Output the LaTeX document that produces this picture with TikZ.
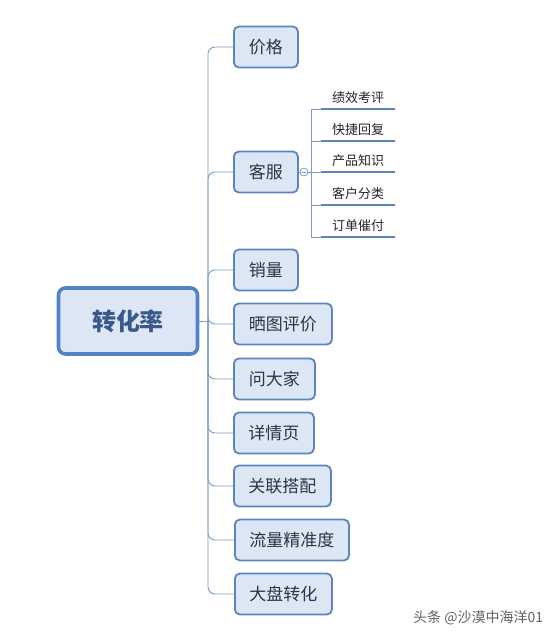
\documentclass[tikz,border=0pt]{standalone}
\usepackage{fontspec}
\setmainfont{Noto Sans CJK SC}
\begin{document}
\begin{tikzpicture}[x=1pt,y=-1pt,
  boxline/.style={draw=boxc,line width=1.8pt,fill=boxf,rounded corners=5pt},
  child/.style={boxline,anchor=west,minimum height=41pt,inner sep=0pt,font=\fontsize{17}{17}\selectfont,text=txtc},
  rootbox/.style={draw=rootc,line width=3.6pt,fill=boxf,rounded corners=7pt,minimum width=139pt,minimum height=66pt,inner sep=0pt,font=\fontsize{24}{24}\selectfont\bfseries,text=roottxt},
  conn/.style={draw=linec,line width=0.9pt,rounded corners=7pt},
  sub/.style={anchor=south,minimum width=74pt,inner xsep=0pt,inner ysep=5pt,font=\fontsize{13}{13}\selectfont,text=black!85},
  ul/.style={draw=ulc,line width=2.6pt},
  subconn/.style={draw=linec,line width=0.9pt}
]
\definecolor{boxc}{HTML}{5C84BE}
\definecolor{rootc}{HTML}{5282C8}
\definecolor{boxf}{HTML}{DCE6F4}
\definecolor{txtc}{HTML}{2E3440}
\definecolor{roottxt}{HTML}{3B5A8C}
\definecolor{linec}{HTML}{7C9CC6}
\definecolor{ulc}{HTML}{5B83BC}
\useasboundingbox (0,0) rectangle (557,638);
\fill[white] (0,0) rectangle (557,638);

\node[rootbox] (root) at (128,321) {转化率};

\node[child,minimum width=64pt] (c1) at (233,47) {价格};
\node[child,minimum width=64pt] (c2) at (233,172) {客服};
\node[child,minimum width=64pt] (c3) at (233,270) {销量};
\node[child,minimum width=98pt] (c4) at (233,324) {晒图评价};
\node[child,minimum width=81pt] (c5) at (233,379) {问大家};
\node[child,minimum width=80pt] (c6) at (233,433) {详情页};
\node[child,minimum width=97pt] (c7) at (233,486) {关联搭配};
\node[child,minimum width=114pt] (c8) at (234,540) {流量精准度};
\node[child,minimum width=97pt] (c9) at (234,594) {大盘转化};

\coordinate (tr) at (208,321);
\draw[conn] (root.east) -- (tr);
\foreach \c in {c1,c2,c3,c4,c5,c6,c7,c8,c9}
  \draw[conn] (tr) |- (\c.west);

\node[circle,draw=linec,line width=0.8pt,fill=white,minimum size=8pt,inner sep=0pt] (cc) at (304,172) {};
\draw[linec,line width=0.7pt] ([xshift=-2pt]cc.center) -- ([xshift=2pt]cc.center);
\draw[subconn] (c2.east) -- (cc.west);

\node[sub] (s1) at (358,109) {绩效考评};
\node[sub] (s2) at (358,141) {快捷回复};
\node[sub] (s3) at (358,172) {产品知识};
\node[sub] (s4) at (358,205) {客户分类};
\node[sub] (s5) at (358,237) {订单催付};
\coordinate (st) at (311,172);
\draw[subconn] (cc.east) -- (st);
\foreach \s in {s1,s2,s3,s4,s5}{
  \draw[ul] (\s.south west) -- (\s.south east);
  \draw[subconn] (st) |- (\s.south west);
}

\node[anchor=west,inner sep=0pt,font=\fontsize{14}{14}\selectfont,text=black!62] (wm) at (413,618) {头条 @沙漠中海洋01};
\end{tikzpicture}
\end{document}
